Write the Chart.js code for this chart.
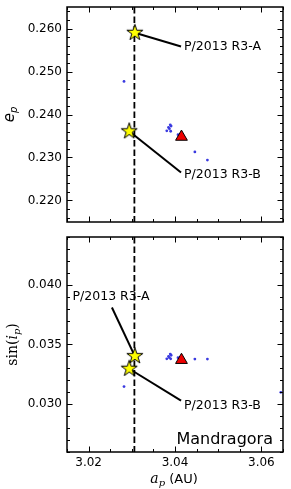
<!DOCTYPE html>
<html lang="en">
<head>
<meta charset="UTF-8">
<script src="https://cdn.jsdelivr.net/npm/chart.js"></script>
<title>Mandragora</title>
<style>
  body { margin: 0; background: #fff; }
  canvas { position: absolute; left: 0; }
</style>
</head>
<body>
<canvas id="topPanel" width="291" height="230" style="top:0px"></canvas>
<canvas id="bottomPanel" width="291" height="259" style="top:230px"></canvas>
<script>
// family members (small blue dots): proper a, e, sin(i)
const famA    = [3.0282, 3.0389, 3.0391, 3.0385, 3.0387, 3.0381, 3.0390, 3.0407, 3.0446, 3.0475, 3.0645]
const famE    = [0.2477, 0.2376, 0.2373, 0.2370, 0.2367, 0.2362, 0.2361, 0.2353, 0.2313, 0.2294, null]
const famSinI = [0.03148, 0.0342, 0.0341, 0.0340, 0.0339, 0.0338, 0.0338, 0.0339, 0.03378, 0.03378, 0.0310]

// (7700) Mandragora itself
const mandA = [3.0415]
const mandE = [0.2348]
const mandSinI = [0.0337]

// P/2013 R3 fragments A and B
const starNames = ['P/2013 R3-A', 'P/2013 R3-B']
const starA = [3.0307, 3.0294]
const starE = [0.2590, 0.2361]
const starSinI = [0.03403, 0.03297]

const dashA = 3.0306

const xRange = [3.015, 3.065]
const xMajor = [3.02, 3.04, 3.06]
const eRange = [0.215, 0.265]
const eMajor = [0.22, 0.23, 0.24, 0.25, 0.26]
const sRange = [0.026, 0.044]
const sMajor = [0.030, 0.035, 0.040]

Chart.defaults.font.family = 'DejaVu Sans'
Chart.defaults.color = '#000'

function starImage(r) {
    let c = document.createElement('canvas')
    let s = 2 * Math.ceil(r + 2)
    c.width = s
    c.height = s
    let g = c.getContext('2d')
    g.translate(s / 2, s / 2)
    g.beginPath()
    for (let i = 0; i < 10; i++) {
        let rad = i % 2 ? r * 0.382 : r
        let ang = -Math.PI / 2 + i * Math.PI / 5
        g.lineTo(rad * Math.cos(ang), rad * Math.sin(ang))
    }
    g.closePath()
    g.fillStyle = '#ffff00'
    g.fill()
    g.lineWidth = 1
    g.strokeStyle = '#000'
    g.stroke()
    return c
}
const star = starImage(8.5)

function rich(ctx, parts, x, y, rot) {
    ctx.save()
    ctx.translate(x, y)
    ctx.rotate(rot)
    ctx.textAlign = 'left'
    ctx.textBaseline = 'alphabetic'
    let w = 0
    parts.forEach(p => { ctx.font = p.font; w += ctx.measureText(p.t).width })
    let cx = -w / 2
    parts.forEach(p => {
        ctx.font = p.font
        ctx.fillText(p.t, cx, p.dy || 0)
        cx += ctx.measureText(p.t).width
    })
    ctx.restore()
}

function ticksBetween(lo, hi, step) {
    let out = []
    let start = Math.ceil(lo / step - 1e-6)
    for (let k = start; k * step <= hi + 1e-9; k++) out.push(+(k * step).toFixed(6))
    return out
}

const framePlugin = {
    id: 'frame',
    beforeDatasetsDraw(chart) {
        const { ctx, chartArea: ca, scales: { x, y } } = chart
        const o = chart.options.plugins.frame
        ctx.save()
        // dashed line at the fragments' semimajor axis
        ctx.beginPath()
        ctx.setLineDash([6.5, 3])
        ctx.lineWidth = 1.8
        ctx.strokeStyle = '#000'
        let px = x.getPixelForValue(dashA)
        ctx.moveTo(px, ca.top)
        ctx.lineTo(px, ca.bottom)
        ctx.stroke()
        ctx.setLineDash([])
        // annotation leader lines
        ctx.lineWidth = 2
        o.notes.forEach(n => {
            ctx.beginPath()
            ctx.moveTo(x.getPixelForValue(starA[n.i]), y.getPixelForValue(o.starY[n.i]))
            ctx.lineTo(x.getPixelForValue(n.lx), y.getPixelForValue(n.ly))
            ctx.stroke()
        })
        ctx.restore()
    },
    afterDraw(chart) {
        const { ctx, chartArea: ca, scales: { x, y } } = chart
        const o = chart.options.plugins.frame
        ctx.save()
        ctx.fillStyle = '#000'
        ctx.font = '12.5px DejaVu Sans'
        ctx.textBaseline = 'middle'
        o.notes.forEach(n => {
            ctx.textAlign = n.align
            ctx.fillText(starNames[n.i], x.getPixelForValue(n.tx), y.getPixelForValue(n.ty))
        })
        if (o.tag) {
            ctx.font = '16px DejaVu Sans'
            ctx.textAlign = 'right'
            ctx.textBaseline = 'alphabetic'
            ctx.fillText(o.tag, ca.right - 10, ca.bottom - 8.5)
        }
        // ticks, inward on all sides
        ctx.strokeStyle = '#000'
        ctx.lineWidth = 1
        ctx.beginPath()
        ticksBetween(xRange[0], xRange[1], 0.005).forEach(v => {
            let p = Math.round(x.getPixelForValue(v)) + 0.5
            let L = xMajor.some(m => Math.abs(m - v) < 1e-6) ? 5.5 : 3
            ctx.moveTo(p, ca.bottom); ctx.lineTo(p, ca.bottom - L)
            ctx.moveTo(p, ca.top); ctx.lineTo(p, ca.top + L)
        })
        ticksBetween(o.yRange[0], o.yRange[1], o.yMinor).forEach(v => {
            let p = Math.round(y.getPixelForValue(v)) + 0.5
            let L = o.yMajor.some(m => Math.abs(m - v) < 1e-6) ? 5.5 : 3
            ctx.moveTo(ca.left, p); ctx.lineTo(ca.left + L, p)
            ctx.moveTo(ca.right, p); ctx.lineTo(ca.right - L, p)
        })
        ctx.stroke()
        ctx.lineWidth = 1.5
        ctx.strokeRect(ca.left, ca.top, ca.right - ca.left, ca.bottom - ca.top)
        // axis titles
        rich(ctx, o.yTitle, o.yTitleX, (ca.top + ca.bottom) / 2, -Math.PI / 2)
        if (o.xTitle) rich(ctx, o.xTitle, (ca.left + ca.right) / 2 - 1, o.xTitleY, 0)
        ctx.restore()
    }
}

function noPad(s) {
    s.paddingTop = 0
    s.paddingBottom = 0
    s.paddingLeft = 0
    s.paddingRight = 0
}

function panel(id, opt) {
    return new Chart(document.getElementById(id), {
        type: 'scatter',
        data: {
            datasets: [
                {
                    data: starA.map((a, i) => ({ x: a, y: opt.starY[i] })),
                    pointStyle: star, pointRadius: 9, clip: false
                },
                {
                    data: mandA.map((a, i) => ({ x: a, y: opt.mandY[i] })),
                    pointStyle: 'triangle', pointRadius: 6.8,
                    backgroundColor: '#ee0000', borderColor: '#000', borderWidth: 1
                },
                {
                    data: famA.map((a, i) => ({ x: a, y: opt.famY[i] })),
                    pointRadius: 1.4, borderWidth: 0,
                    backgroundColor: '#3a3ae0'
                }
            ]
        },
        options: {
            responsive: false,
            animation: false,
            devicePixelRatio: 1,
            layout: { autoPadding: false, padding: { left: 0, right: 8, top: 7, bottom: 0 } },
            plugins: {
                legend: { display: false },
                tooltip: { enabled: false },
                frame: opt
            },
            scales: {
                x: {
                    type: 'linear', min: xRange[0], max: xRange[1],
                    grid: { display: false, drawTicks: false },
                    border: { display: false },
                    afterBuildTicks: s => { s.ticks = xMajor.map(v => ({ value: v })) },
                    ticks: {
                        display: opt.showX, padding: 4, maxRotation: 0, autoSkip: false,
                        font: { size: 12 }, callback: v => v.toFixed(2)
                    },
                    afterFit: s => { s.height = opt.xAxisH; noPad(s) }
                },
                y: {
                    type: 'linear', min: opt.yRange[0], max: opt.yRange[1],
                    grid: { display: false, drawTicks: false },
                    border: { display: false },
                    afterBuildTicks: s => { s.ticks = opt.yMajor.map(v => ({ value: v })) },
                    ticks: { padding: 5, autoSkip: false, font: { size: 12 }, callback: v => v.toFixed(3) },
                    afterFit: s => { s.width = 67; noPad(s) }
                }
            }
        },
        plugins: [framePlugin]
    })
}

panel('topPanel', {
    starY: starE, mandY: mandE, famY: famE,
    yRange: eRange, yMajor: eMajor, yMinor: 0.002,
    showX: false, xAxisH: 8,
    notes: [
        { i: 0, lx: 3.0414, ly: 0.2558, tx: 3.0421, ty: 0.2558, align: 'left' },
        { i: 1, lx: 3.0414, ly: 0.2265, tx: 3.0421, ty: 0.2259, align: 'left' }
    ],
    yTitle: [
        { t: 'e', font: 'oblique 15px DejaVu Sans' },
        { t: 'p', font: 'oblique 10px DejaVu Sans', dy: 3 }
    ],
    yTitleX: 14
})

panel('bottomPanel', {
    starY: starSinI, mandY: mandSinI, famY: famSinI,
    yRange: sRange, yMajor: sMajor, yMinor: 0.001,
    showX: true, xAxisH: 37,
    notes: [
        { i: 0, lx: 3.0254, ly: 0.0381, tx: 3.0252, ty: 0.0390, align: 'center' },
        { i: 1, lx: 3.0414, ly: 0.0303, tx: 3.0421, ty: 0.0299, align: 'left' }
    ],
    tag: 'Mandragora',
    yTitle: [
        { t: 'sin(', font: '14px DejaVu Serif' },
        { t: 'i', font: 'italic 14px DejaVu Serif' },
        { t: 'p', font: 'italic 10px DejaVu Serif', dy: 3 },
        { t: ')', font: '14px DejaVu Serif' }
    ],
    yTitleX: 17,
    xTitle: [
        { t: 'a', font: 'italic 14px DejaVu Serif' },
        { t: 'p', font: 'italic 10px DejaVu Serif', dy: 3 },
        { t: ' (AU)', font: '13px DejaVu Sans' }
    ],
    xTitleY: 253
})
</script>
</body>
</html>
